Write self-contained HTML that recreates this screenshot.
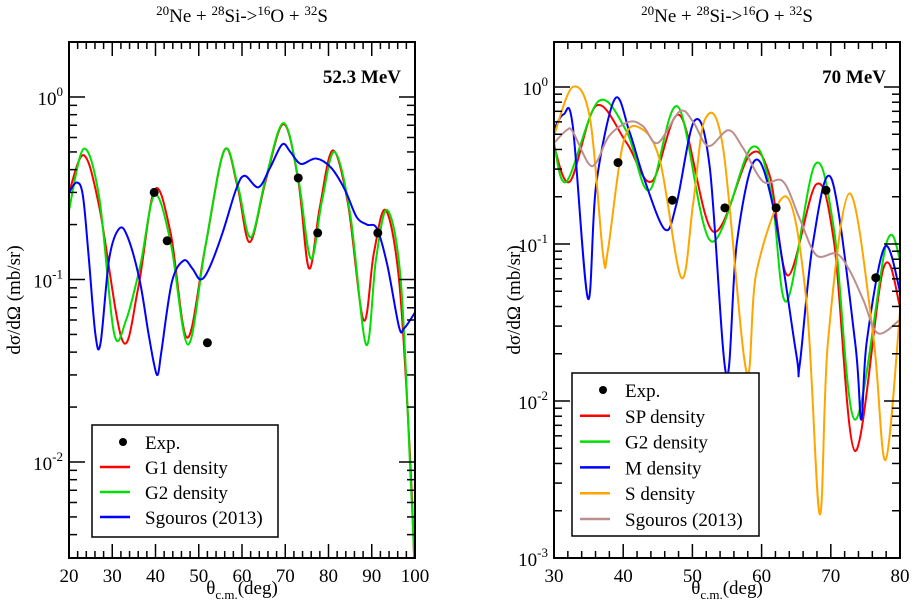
<!DOCTYPE html>
<html><head><meta charset="utf-8"><style>
html,body{margin:0;padding:0;background:#fff;overflow:hidden;width:914px;height:613px;}
svg{display:block;}
svg text{font-family:"Liberation Serif","DejaVu Serif",serif;}
</style></head><body>
<svg id="chart" width="914" height="613" viewBox="0 0 914 613" font-family="Liberation Serif, DejaVu Serif, serif" xmlns="http://www.w3.org/2000/svg"></svg>
<script>
// ---------- Left panel data (52.3 MeV) ----------
const L_expTheta=[39.7,42.7,52.0,73.0,77.5,91.4];
const L_expVal=[0.30,0.163,0.045,0.36,0.18,0.18];
const L_g1Theta=[20,23.4,27,32.4,36,39.8,43.5,47.3,51.5,55.9,59,61.8,65.5,69.6,73,75.5,78,81,84.5,88.1,90.5,93.2,96.3,98.7,99.8,100.3];
const L_g1Val=[0.30,0.48,0.25,0.046,0.09,0.31,0.18,0.048,0.15,0.51,0.32,0.16,0.35,0.71,0.35,0.115,0.25,0.51,0.26,0.06,0.14,0.24,0.10,0.0126,0.003,0.001];
const L_g2Theta=[20,23.4,27,30.4,33.2,36.5,39.8,43.5,47.5,51.5,55.9,59,62,65.5,69.6,73,75.9,78.5,81.4,85,88.7,91,93.6,96.7,99,99.8,100.3];
const L_g2Val=[0.24,0.52,0.28,0.051,0.06,0.12,0.29,0.16,0.044,0.15,0.51,0.33,0.17,0.36,0.72,0.36,0.13,0.27,0.50,0.23,0.044,0.13,0.24,0.10,0.008,0.003,0.001];
const L_sgTheta=[20,21.8,23.2,24.5,26.1,27.3,29.3,31.6,33.6,36.3,38.3,39.5,40.5,41.4,43.8,46.5,48.5,50.4,52.4,55.5,58.6,60.6,63.8,66.5,69.3,71.2,73.6,77.1,80.6,83.8,86.5,88.9,91.2,93.6,96.3,97.5,100];
const L_sgVal=[0.30,0.34,0.29,0.137,0.05,0.045,0.13,0.19,0.17,0.10,0.052,0.036,0.030,0.041,0.097,0.127,0.115,0.10,0.115,0.18,0.31,0.37,0.32,0.41,0.55,0.50,0.43,0.46,0.41,0.31,0.22,0.20,0.19,0.12,0.055,0.054,0.066];
const L_xTicks=[20,30,40,50,60,70,80,90,100];
const L_yExp=[0,-1,-2];

// ---------- Right panel data (70 MeV) ----------
const R_expTheta=[39.25,47.1,54.7,62.1,69.3,76.5];
const R_expVal=[0.33,0.19,0.17,0.17,0.22,0.061];
const R_spTheta=[30,32.3,36.1,40.5,44.1,48.2,53,58.3,61.2,63.8,67.9,70.5,73.5,77.6,80];
const R_spVal=[0.42,0.25,0.76,0.44,0.25,0.66,0.12,0.37,0.27,0.063,0.24,0.10,0.0048,0.07,0.04];
const R_g2Theta=[30,31.8,36.4,40.5,43.8,47.9,52.7,58.5,61.4,63.6,67.7,70.5,73.5,78,80];
const R_g2Val=[0.44,0.25,0.81,0.52,0.22,0.75,0.104,0.41,0.21,0.043,0.32,0.12,0.0076,0.10,0.08];
const R_mTheta=[30,31.4,32.7,34.9,36.1,38.8,40.9,42.9,46,47.7,50.3,52.5,54.9,56.4,59,61.7,65,65.5,67.4,70.1,73.5,74.4,75.2,77.8,80];
const R_mVal=[0.54,0.67,0.57,0.045,0.24,0.84,0.52,0.27,0.124,0.18,0.61,0.31,0.0147,0.10,0.34,0.17,0.020,0.017,0.10,0.26,0.024,0.0076,0.024,0.096,0.05];
const R_sTheta=[30,32.7,35.2,37.1,37.8,40,42.4,45.3,48.4,50.1,51.8,54.4,57.8,59.3,63.6,66.5,68.4,69.6,72.7,76.1,77.9,80];
const R_sVal=[0.49,1.0,0.63,0.085,0.092,0.44,0.55,0.34,0.061,0.18,0.62,0.42,0.0155,0.068,0.20,0.042,0.0019,0.024,0.21,0.027,0.0042,0.037];
const R_sgTheta=[30,31.8,32.7,34.9,36.1,38,40.9,42.9,45,48.2,50.1,52.3,55.2,57.3,60.2,63.1,65.5,67.9,70.8,72.7,74.7,76.8,80];
const R_sgVal=[0.44,0.53,0.52,0.33,0.33,0.49,0.60,0.56,0.44,0.70,0.60,0.42,0.53,0.41,0.25,0.25,0.145,0.085,0.087,0.068,0.044,0.027,0.033];
const R_xTicks=[30,40,50,60,70,80];
const R_yExp=[0,-1,-2,-3];

const NS="http://www.w3.org/2000/svg";
const svg=document.getElementById('chart');
const FONT='"Liberation Serif","DejaVu Serif",serif';
function mk(tag,attrs,parent){const e=document.createElementNS(NS,tag);for(const k in attrs)e.setAttribute(k,attrs[k]);if(tag==='text')e.setAttribute('font-family',FONT);(parent||svg).appendChild(e);return e;}

function makePanel(p){
  const xS=v=>p.x0+(v-p.xmin)/(p.xmax-p.xmin)*(p.x1-p.x0);
  const yS=v=>p.yRef-Math.log10(v)*p.dec;
  const g=mk('g',{});
  
  
  const cid='clip-'+p.name;
  const cp=mk('clipPath',{id:cid},g);mk('rect',{x:p.x0,y:p.y0,width:p.x1-p.x0,height:p.y1-p.y0},cp);
  const cg=mk('g',{'clip-path':'url(#'+cid+')'},g);
  p.series.forEach(s=>{
    const pts=s.t.map((t,i)=>[xS(t),yS(s.v[i])]);
    let d='M'+pts[0][0].toFixed(1)+','+pts[0][1].toFixed(1);
    for(let i=0;i<pts.length-1;i++){
      const p0=pts[Math.max(0,i-1)],p1=pts[i],p2=pts[i+1],p3=pts[Math.min(pts.length-1,i+2)];
      const c1=[p1[0]+(p2[0]-p0[0])/6,p1[1]+(p2[1]-p0[1])/6];
      const c2=[p2[0]-(p3[0]-p1[0])/6,p2[1]-(p3[1]-p1[1])/6];
      d+=' C'+c1[0].toFixed(1)+','+c1[1].toFixed(1)+' '+c2[0].toFixed(1)+','+c2[1].toFixed(1)+' '+p2[0].toFixed(1)+','+p2[1].toFixed(1);
    }
    const path=mk('path',{d:d,fill:'none',stroke:s.color,'stroke-width':2},cg);
    
    
  });
  p.exp.t.forEach((t,i)=>{
    const c=mk('circle',{cx:xS(t),cy:yS(p.exp.v[i]),r:4.5,fill:'#000'},cg);
    
    
  });
  const fr=mk('rect',{x:p.x0,y:p.y0,width:p.x1-p.x0,height:p.y1-p.y0,fill:'none',stroke:'#000','stroke-width':2},g);
  
  
  for(let v=p.xmin;v<=p.xmax+0.01;v+=2){
    const maj=Math.abs(v%10)<0.01, L=maj?14:7, x=xS(v);
    mk('line',{x1:x,y1:p.y1,x2:x,y2:p.y1-L,stroke:'#000','stroke-width':1.5},g);
    mk('line',{x1:x,y1:p.y0,x2:x,y2:p.y0+L,stroke:'#000','stroke-width':1.5},g);
  }
  p.xTicks.forEach(v=>{
    const t=mk('text',{x:xS(v),y:p.y1+24,'font-size':19,'text-anchor':'middle'},g);t.textContent=v;
    
    
  });
  const lo=(p.yRef-p.y1)/p.dec, hi=(p.yRef-p.y0)/p.dec;
  for(let e=Math.floor(lo)-1;e<=Math.ceil(hi);e++){
    for(let m=1;m<10;m++){
      const y=p.yRef-(e+Math.log10(m))*p.dec;
      if(y<p.y0+1||y>p.y1-1)continue;
      const L=m===1?16:8;
      mk('line',{x1:p.x0,y1:y,x2:p.x0+L,y2:y,stroke:'#000','stroke-width':1.5},g);
      mk('line',{x1:p.x1,y1:y,x2:p.x1-L,y2:y,stroke:'#000','stroke-width':1.5},g);
    }
  }
  p.yExp.forEach(e=>{
    const y=p.yRef-e*p.dec;
    const t=mk('text',{x:p.x0-6,y:y+8,'font-size':19,'text-anchor':'end'},g);
    t.innerHTML='10<tspan dy="-9" font-size="13">'+e+'</tspan>';
    
    
  });
  const cx=(p.x0+p.x1)/2;
  const tt=mk('text',{x:cx,y:22,'font-size':19,'text-anchor':'middle'},g);
  tt.innerHTML='<tspan font-size="13" dy="-7">20</tspan><tspan dy="7">Ne + </tspan><tspan font-size="13" dy="-7">28</tspan><tspan dy="7">Si-&gt;</tspan><tspan font-size="13" dy="-7">16</tspan><tspan dy="7">O + </tspan><tspan font-size="13" dy="-7">32</tspan><tspan dy="7">S</tspan>';
  
  
  const en=mk('text',{x:p.x1-14,y:83,'font-size':19,'font-weight':'bold','text-anchor':'end'},g);
  en.textContent=p.energy;
  
  
  const xt=mk('text',{x:cx,y:594,'font-size':19,'text-anchor':'middle'},g);
  xt.innerHTML='θ<tspan font-size="13" dy="5">c.m.</tspan><tspan dy="-5">(deg)</tspan>';
  
  
  const yt=mk('text',{x:0,y:0,'font-size':19,'text-anchor':'middle',transform:'translate('+p.ytX+',300) rotate(-90)'},g);
  yt.textContent='dσ/dΩ  (mb/sr)';
  
  
  const lg=mk('g',{},g);
  
  
  mk('rect',{x:p.lg.x,y:p.lg.y,width:p.lg.w,height:p.lg.h,fill:'#fff',stroke:'#000','stroke-width':1.5},lg);
  const items=[{label:'Exp.',dot:true}].concat(p.series.map(s=>({label:s.label,color:s.color})));
  items.forEach((it,i)=>{
    const y=p.lg.y+17+i*p.lg.step;
    const lx=p.lg.x+8;
    if(it.dot) mk('circle',{cx:lx+23,cy:y,r:4,fill:'#000'},lg);
    else mk('line',{x1:lx,y1:y,x2:lx+30,y2:y,stroke:it.color,'stroke-width':2.5},lg);
    const t=mk('text',{x:lx+45,y:y+7,'font-size':19},lg);t.textContent=it.label;
    
    
  });
}

makePanel({name:'left-panel',x0:69,x1:415,y0:42,y1:558,xmin:20,xmax:100,yRef:97,dec:182.5,
  xTicks:L_xTicks,yExp:L_yExp,energy:'52.3 MeV',ytX:20,
  exp:{t:L_expTheta,v:L_expVal},
  series:[{key:'g1',label:'G1 density',color:'#ff0000',t:L_g1Theta,v:L_g1Val},
          {key:'g2',label:'G2 density',color:'#00e000',t:L_g2Theta,v:L_g2Val},
          {key:'sgouros',label:'Sgouros (2013)',color:'#0000ff',t:L_sgTheta,v:L_sgVal}],
  lg:{x:92,y:425,w:186,h:112,step:25}});
makePanel({name:'right-panel',x0:554,x1:900,y0:42,y1:558,xmin:30,xmax:80,yRef:87,dec:157,
  xTicks:R_xTicks,yExp:R_yExp,energy:'70 MeV',ytX:520,
  exp:{t:R_expTheta,v:R_expVal},
  series:[{key:'sp',label:'SP density',color:'#ff0000',t:R_spTheta,v:R_spVal},
          {key:'g2',label:'G2 density',color:'#00e000',t:R_g2Theta,v:R_g2Val},
          {key:'m',label:'M density',color:'#0000ff',t:R_mTheta,v:R_mVal},
          {key:'s',label:'S density',color:'#ffa500',t:R_sTheta,v:R_sVal},
          {key:'sgouros',label:'Sgouros (2013)',color:'#bc8f8f',t:R_sgTheta,v:R_sgVal}],
  lg:{x:572,y:373,w:187,h:163,step:25.8}});
</script>
</body></html>
